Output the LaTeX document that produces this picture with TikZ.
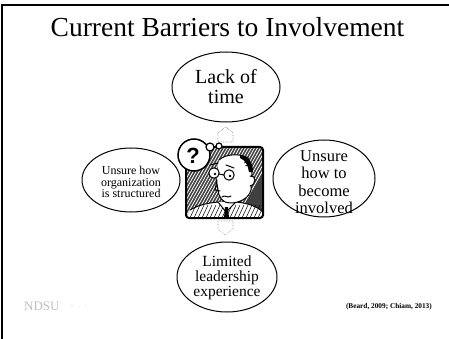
\documentclass[tikz,border=0pt]{standalone}
\usepackage{fontspec}
\setmainfont{Liberation Serif}
\newfontfamily\bubblefont{Liberation Sans}
\usetikzlibrary{shapes.geometric}

\begin{document}
\begin{tikzpicture}[x=1pt,y=-1pt,
  oval/.style={draw, ellipse, line width=1pt, inner sep=0pt},
  ovaltext/.style={align=center, inner sep=0pt},
  hint/.style={draw=black!45, densely dotted, line width=0.6pt, fill=white},
  ink/.style={line width=1pt, line join=round, line cap=round}]
\useasboundingbox (0,0) rectangle (449,339);

% slide edge
\draw[line width=1.3pt] (2,339) -- (2,5) -- (449,5);

% title
\node[anchor=base, inner sep=0pt, font=\fontsize{27.5}{30}\selectfont] (title) at (227.5,37) {Current Barriers to Involvement};

% barriers
\node[oval, minimum width=108, minimum height=70] (time) at (226,87) {};
\node[ovaltext, font=\fontsize{20}{20}\selectfont] at (time) {Lack of\\time};

\node[oval, minimum width=98, minimum height=64] (org) at (131,180) {};
\node[ovaltext, font=\fontsize{12}{11.5}\selectfont] at (131,182) {Unsure how\\organization\\is structured};

\node[oval, minimum width=102, minimum height=77] (how) at (324,178.5) {};
\node[ovaltext, font=\fontsize{16.5}{17.5}\selectfont] at (324,182) {Unsure\\how to\\become\\involved};

\node[oval, minimum width=100, minimum height=70] (lead) at (227,277) {};
\node[ovaltext, font=\fontsize{15.5}{15}\selectfont] at (227,278) {Limited\\leadership\\experience};

% puzzled man
\coordinate (fa) at (186,147);
\coordinate (fb) at (263,218);
\node[inner sep=0pt, minimum width=77, minimum height=71] (man) at (224.5,182.5) {};
\begin{scope}
  \clip[rounded corners=3] (fa) rectangle (fb);
  \fill[black!75] (fa) rectangle (fb);
  \foreach \i in {0,3,...,90} {
    \draw[white, line width=0.8pt] (186+\i,147) -- (186+\i-40,218);
  }
  % suit
  \fill[white] (186,218) -- (190,210) .. controls (200,204) and (210,203) .. (218,202)
     -- (236,202) .. controls (248,203) and (258,207) .. (263,212) -- (263,218) -- cycle;
  \draw[ink] (190,210) .. controls (200,204) and (210,203) .. (218,202)
     -- (236,202) .. controls (248,203) and (258,207) .. (263,212);
  \foreach \i in {0,4,...,70} {
    \draw[black, line width=0.5pt] (190+\i,218) -- (196+\i,205);
  }
  % collar and tie
  \fill[white] (218,202) -- (226,212) -- (236,202) -- cycle;
  \draw[ink] (218,202) -- (226,212) -- (236,202);
  \fill[black] (225,207) -- (228,207) -- (229,218) -- (224,218) -- cycle;
  % neck and head
  \fill[white] (219,160) .. controls (225,154) and (240,153) .. (248,158)
     -- (252,170) -- (251,190) .. controls (249,198) and (240,203) .. (230,203)
     .. controls (223,203) and (219,198) .. (218,190) -- (216,178) -- cycle;
  \draw[ink] (219,160) .. controls (225,154) and (240,153) .. (248,158)
     -- (252,170) -- (251,190) .. controls (249,198) and (240,203) .. (230,203)
     .. controls (223,203) and (219,198) .. (218,190) -- (216,178);
  % hair
  \fill[black] (240,155) .. controls (248,156) and (253,162) .. (253,172)
     -- (249,172) .. controls (248,165) and (245,160) .. (240,158) -- cycle;
  \draw[line width=0.6pt] (244,163) -- (250,160) (245,166) -- (252,164);
  % ear
  \fill[white] (250,176) .. controls (256,175) and (257,184) .. (250,186);
  \draw[ink] (250,176) .. controls (256,175) and (257,184) .. (250,186);
  % brows, glasses, nose, mouth
  \draw[ink] (210,165) -- (218,163) (226,165) -- (234,168);
  \draw[ink, fill=white] (214,173) circle (5.2) (229,175) circle (5.2);
  \fill (215,174) circle (1.3) (230,176) circle (1.3);
  \draw[ink] (219,174) -- (224,175);
  \draw[ink] (217,180) -- (215,190) -- (220,191);
  \draw[ink] (222,197) .. controls (225,194) and (227,199) .. (231,196);
\end{scope}
\draw[line width=2pt, rounded corners=3] (fa) rectangle (fb);

% thought bubble
\draw[line width=1.5pt, fill=white] (194,155) circle (16);
\node[font=\bubblefont\bfseries\fontsize{22}{22}\selectfont, inner sep=0pt] (q) at (193,156) {?};
\draw[line width=1.2pt, fill=white] (210,147) circle (4) (219,146) circle (3);

% faint direction hints
\draw[hint] (218,142) -- (218,133) -- (225.5,127) -- (233,133) -- (233,142) -- cycle;
\draw[hint] (218,221) -- (233,221) -- (233,229) -- (225.5,235) -- (218,229) -- cycle;

% footer
\node[anchor=base west, inner sep=0pt, text=black!25, font=\fontsize{13}{13}\selectfont] (logo) at (24,310) {NDSU};
\fill[black!25] (72,306) circle (0.6) (79,307) circle (0.5) (86,305) circle (0.5);
\node[anchor=base east, inner sep=0pt, font=\bfseries\fontsize{7.3}{7.3}\selectfont] (cite) at (432,308) {(Beard, 2009; Chiam, 2013)};
\end{tikzpicture}
\end{document}
